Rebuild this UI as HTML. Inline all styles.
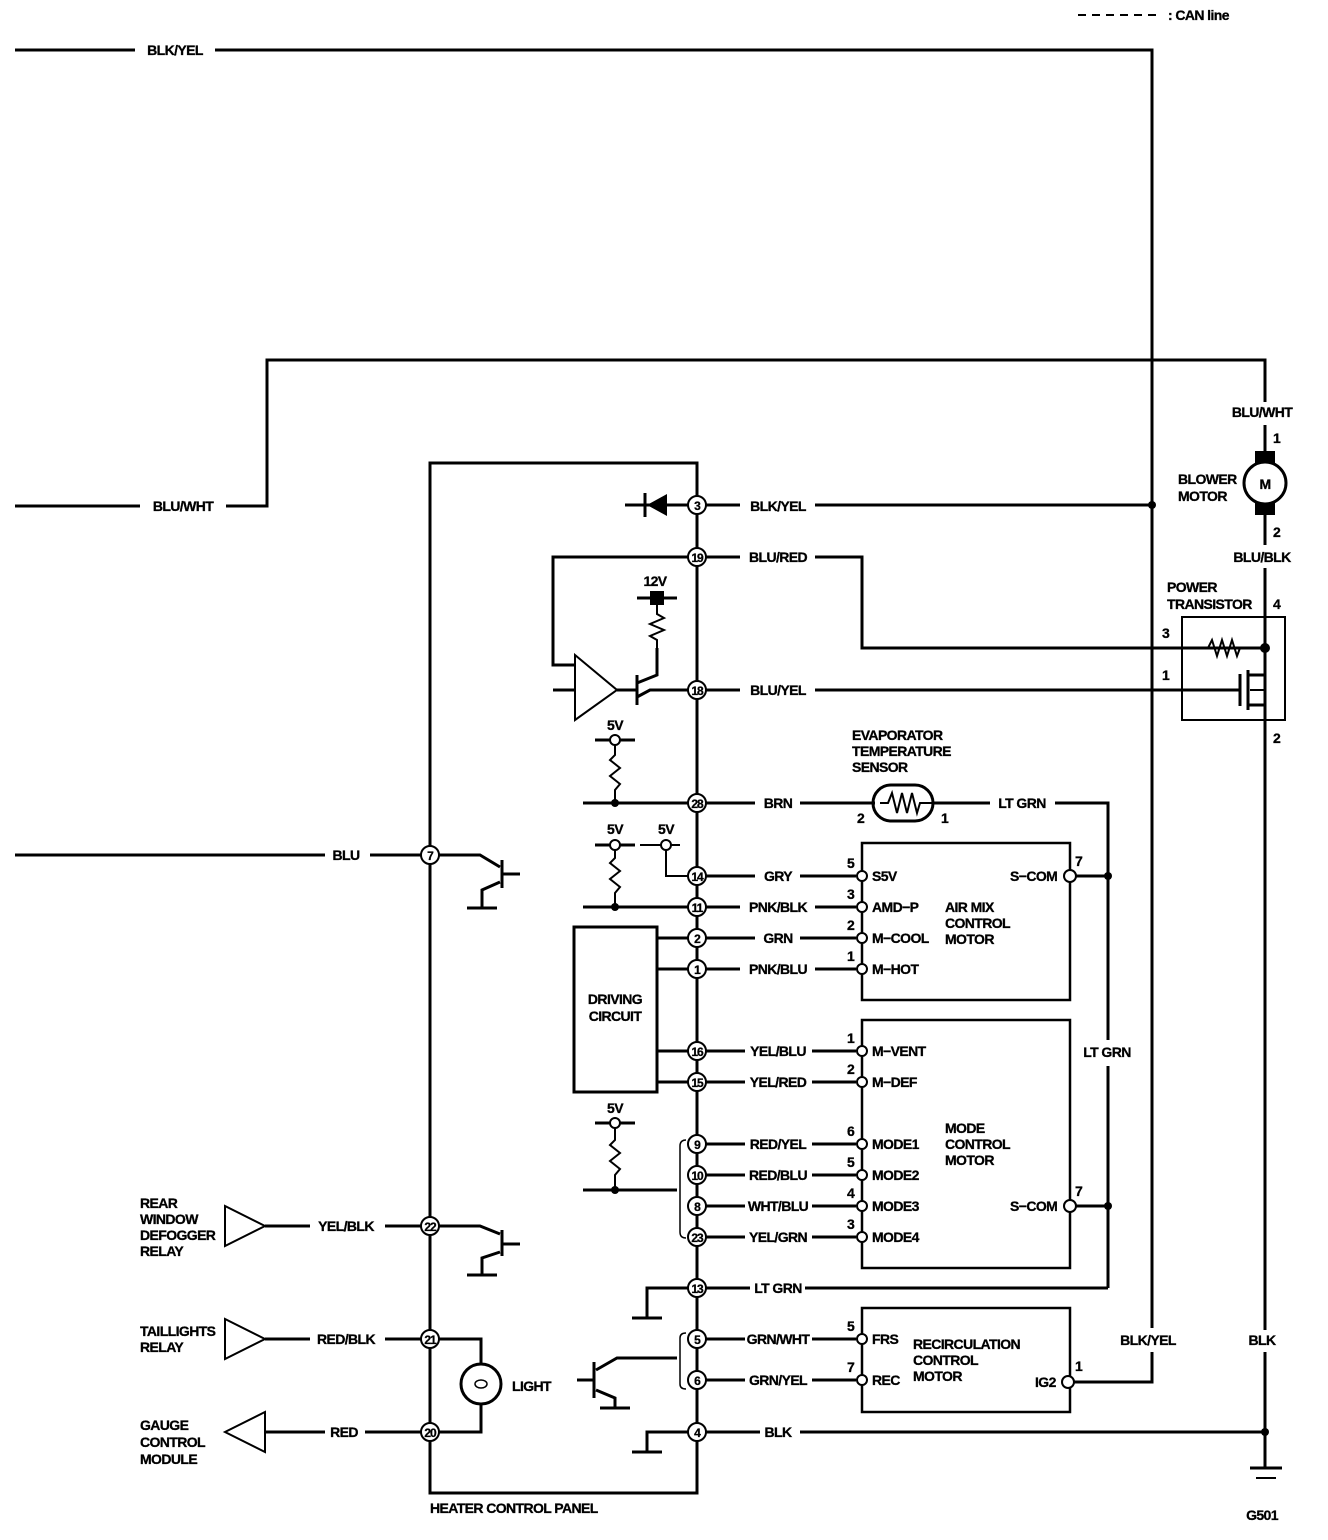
<!DOCTYPE html>
<html><head><meta charset="utf-8"><style>
html,body{margin:0;padding:0;background:#fff}
svg{display:block}
text{font-family:"Liberation Sans",sans-serif;font-weight:bold;font-size:14px;fill:#000;letter-spacing:-0.6px;stroke:#000;stroke-width:0.3px}
.c{text-anchor:middle}
.n{font-size:12px;letter-spacing:-1px}
</style></head><body>
<svg width="1328" height="1540" viewBox="0 0 1328 1540" xmlns="http://www.w3.org/2000/svg">
<g stroke="#000" stroke-width="3" fill="none">
<line x1="1078" y1="15" x2="1162" y2="15" stroke-dasharray="8,6" stroke-width="2"/>
<polyline points="15,50 135,50"/>
<polyline points="215,50 1152,50 1152,1328"/>
<polyline points="1152,1352 1152,1382 1068,1382"/>
<polyline points="15,506 140,506"/>
<polyline points="226,506 267,506 267,360 1265,360 1265,402"/>
<line x1="1265" y1="425" x2="1265" y2="455"/>
<circle cx="1265" cy="483" r="21"/>
<line x1="1265" y1="513" x2="1265" y2="545"/>
<line x1="1265" y1="568" x2="1265" y2="1330"/>
<line x1="1265" y1="1352" x2="1265" y2="1468"/>
<line x1="1250" y1="1468" x2="1282" y2="1468"/>
<line x1="1256" y1="1478" x2="1276" y2="1478" stroke-width="2"/>
<rect x="430" y="463" width="267" height="1030"/>
<line x1="15" y1="855" x2="325" y2="855"/>
<line x1="370" y1="855" x2="430" y2="855"/>
<line x1="697" y1="505" x2="740" y2="505"/><line x1="815" y1="505" x2="1152" y2="505"/>
<line x1="697" y1="557" x2="740" y2="557"/><polyline points="815,557 862,557 862,648 1265,648"/>
<line x1="697" y1="690" x2="740" y2="690"/><line x1="815" y1="690" x2="1240" y2="690"/>
<line x1="697" y1="803" x2="755" y2="803"/><line x1="800" y1="803" x2="875" y2="803"/><line x1="932" y1="803" x2="990" y2="803"/><polyline points="1055,803 1108,803 1108,1040"/>
<line x1="1108" y1="1066" x2="1108" y2="1288"/>
<line x1="697" y1="876" x2="755" y2="876"/><line x1="800" y1="876" x2="856" y2="876"/>
<line x1="697" y1="907" x2="740" y2="907"/><line x1="815" y1="907" x2="856" y2="907"/>
<line x1="697" y1="938" x2="755" y2="938"/><line x1="800" y1="938" x2="856" y2="938"/>
<line x1="697" y1="969" x2="740" y2="969"/><line x1="815" y1="969" x2="856" y2="969"/>
<line x1="697" y1="1051" x2="745" y2="1051"/><line x1="812" y1="1051" x2="856" y2="1051"/>
<line x1="697" y1="1082" x2="745" y2="1082"/><line x1="812" y1="1082" x2="856" y2="1082"/>
<line x1="697" y1="1144" x2="745" y2="1144"/><line x1="812" y1="1144" x2="856" y2="1144"/>
<line x1="697" y1="1175" x2="745" y2="1175"/><line x1="812" y1="1175" x2="856" y2="1175"/>
<line x1="697" y1="1206" x2="745" y2="1206"/><line x1="812" y1="1206" x2="856" y2="1206"/>
<line x1="697" y1="1237" x2="745" y2="1237"/><line x1="812" y1="1237" x2="856" y2="1237"/>
<line x1="697" y1="1288" x2="750" y2="1288"/><line x1="805" y1="1288" x2="1108" y2="1288"/>
<line x1="697" y1="1339" x2="745" y2="1339"/><line x1="812" y1="1339" x2="856" y2="1339"/>
<line x1="697" y1="1380" x2="745" y2="1380"/><line x1="812" y1="1380" x2="856" y2="1380"/>
<line x1="697" y1="1432" x2="760" y2="1432"/><line x1="800" y1="1432" x2="1265" y2="1432"/>
<line x1="1076" y1="876" x2="1108" y2="876"/>
<line x1="1076" y1="1206" x2="1108" y2="1206"/>
<rect x="862" y="843" width="208" height="157" stroke-width="2.5"/>
<rect x="862" y="1020" width="208" height="248" stroke-width="2.5"/>
<rect x="862" y="1308" width="208" height="104" stroke-width="2.5"/>
<rect x="873" y="785" width="60" height="36" rx="18"/>
<polyline points="880,803 888,803 892,793 897,813 902,793 907,813 912,793 917,813 920,803 932,803" stroke-width="2"/>
<rect x="1182" y="617" width="103" height="103" stroke-width="2"/>
<polyline points="1182,648 1208,648 1212,640 1217,656 1222,640 1227,656 1232,640 1237,656 1240,648 1265,648" stroke-width="2"/>
<line x1="1240" y1="674" x2="1240" y2="706"/>
<polyline points="1265,648 1265,675 1248,675"/>
<line x1="1248" y1="670" x2="1248" y2="710"/>
<polyline points="1248,705 1265,705 1265,720"/>
<polyline points="1250,690 1265,690 1265,705" stroke-width="2"/>
<line x1="625" y1="505" x2="697" y2="505"/>
<line x1="645" y1="493" x2="645" y2="517"/>
<polyline points="697,557 553,557 553,665 575,665"/>
<polyline points="553,690 575,690"/>
<polygon points="575,655 575,720 617,690" stroke-width="2"/>
<line x1="617" y1="690" x2="637" y2="690"/>
<line x1="637" y1="675" x2="637" y2="705"/>
<polyline points="637,683 657,675 657,648"/>
<polyline points="637,697 650,690 697,690"/>
<polyline points="657,648 657,640 650,636 664,630 650,624 664,618 657,614 657,600" stroke-width="2"/>
<line x1="637" y1="598" x2="677" y2="598"/>
<line x1="583" y1="803" x2="697" y2="803"/>
<line x1="595" y1="740" x2="635" y2="740"/>
<polyline points="615,740 615,755 610,760 620,768 610,776 620,784 615,790 615,803" stroke-width="2"/>
<line x1="583" y1="907" x2="697" y2="907"/>
<line x1="595" y1="845" x2="635" y2="845"/>
<polyline points="615,845 615,858 610,863 620,871 610,879 620,887 615,893 615,907" stroke-width="2"/>
<line x1="640" y1="845" x2="680" y2="845" stroke-width="2"/>
<polyline points="666,845 666,876 697,876" stroke-width="2"/>
<rect x="574" y="927" width="83" height="165"/>
<line x1="657" y1="938" x2="697" y2="938"/>
<line x1="657" y1="969" x2="697" y2="969"/>
<line x1="657" y1="1051" x2="697" y2="1051"/>
<line x1="657" y1="1082" x2="697" y2="1082"/>
<line x1="583" y1="1190" x2="677" y2="1190"/>
<line x1="595" y1="1123" x2="635" y2="1123"/>
<polyline points="615,1123 615,1140 610,1145 620,1153 610,1161 620,1169 615,1175 615,1190" stroke-width="2"/>
<path d="M686,1140 Q680,1140 680,1146 L680,1232 Q680,1238 686,1238" stroke-width="1.5"/>
<polyline points="697,1288 647,1288 647,1318"/>
<line x1="632" y1="1318" x2="662" y2="1318"/>
<path d="M686,1333 Q680,1333 680,1338 L680,1384 Q680,1389 686,1389" stroke-width="1.5"/>
<polyline points="677,1358 617,1358 596,1370"/>
<line x1="594" y1="1362" x2="594" y2="1398"/>
<line x1="577" y1="1380" x2="594" y2="1380"/>
<polyline points="596,1390 615,1398 615,1408"/>
<line x1="600" y1="1408" x2="630" y2="1408"/>
<polyline points="697,1432 647,1432 647,1452"/>
<line x1="632" y1="1452" x2="662" y2="1452"/>
<polyline points="430,855 480,855 500,867"/>
<line x1="502" y1="860" x2="502" y2="888"/>
<line x1="502" y1="874" x2="520" y2="874"/>
<polyline points="500,882 482,890 482,908"/>
<line x1="467" y1="908" x2="497" y2="908"/>
<polyline points="430,1226 480,1226 500,1234"/>
<line x1="502" y1="1230" x2="502" y2="1256"/>
<line x1="502" y1="1244" x2="520" y2="1244"/>
<polyline points="500,1252 482,1258 482,1275"/>
<line x1="467" y1="1275" x2="497" y2="1275"/>
<polyline points="430,1339 481,1339 481,1363"/>
<circle cx="481" cy="1384" r="20"/>
<polyline points="481,1405 481,1432 430,1432"/>
<ellipse cx="481" cy="1384" rx="6" ry="4" stroke-width="1.5"/>
<polygon points="225,1206 225,1246 265,1226" stroke-width="2"/>
<line x1="265" y1="1226" x2="310" y2="1226"/><line x1="385" y1="1226" x2="430" y2="1226"/>
<polygon points="225,1319 225,1359 265,1339" stroke-width="2"/>
<line x1="265" y1="1339" x2="310" y2="1339"/><line x1="385" y1="1339" x2="430" y2="1339"/>
<polygon points="265,1412 265,1452 225,1432" stroke-width="2"/>
<line x1="265" y1="1432" x2="325" y2="1432"/><line x1="365" y1="1432" x2="430" y2="1432"/>
</g>
<g fill="#000">
<rect x="1255" y="451" width="20" height="12"/><rect x="1255" y="503" width="20" height="12"/>
<polygon points="667,494 667,516 647,505"/>
<rect x="650" y="591" width="14" height="14"/>
<circle cx="1152" cy="505" r="4"/><circle cx="1108" cy="876" r="4"/><circle cx="1108" cy="1206" r="4"/>
<circle cx="1265" cy="648" r="5"/><circle cx="1265" cy="1432" r="4"/>
<circle cx="615" cy="803" r="4"/><circle cx="615" cy="907" r="4"/><circle cx="615" cy="1190" r="4"/>
</g>
<g fill="#fff" stroke="#000" stroke-width="2">
<circle cx="615" cy="740" r="5"/><circle cx="615" cy="845" r="5"/><circle cx="666" cy="845" r="5"/><circle cx="615" cy="1123" r="5"/>
<circle cx="862" cy="876" r="5"/><circle cx="862" cy="907" r="5"/><circle cx="862" cy="938" r="5"/><circle cx="862" cy="969" r="5"/>
<circle cx="862" cy="1051" r="5"/><circle cx="862" cy="1082" r="5"/><circle cx="862" cy="1144" r="5"/><circle cx="862" cy="1175" r="5"/><circle cx="862" cy="1206" r="5"/><circle cx="862" cy="1237" r="5"/>
<circle cx="862" cy="1339" r="5"/><circle cx="862" cy="1380" r="5"/>
<circle cx="1070" cy="876" r="6"/><circle cx="1070" cy="1206" r="6"/><circle cx="1068" cy="1382" r="6"/>
<circle cx="1265" cy="483" r="18" stroke="none"/>
<circle cx="697" cy="505" r="9"/><circle cx="697" cy="557" r="9"/><circle cx="697" cy="690" r="9"/><circle cx="697" cy="803" r="9"/>
<circle cx="697" cy="876" r="9"/><circle cx="697" cy="907" r="9"/><circle cx="697" cy="938" r="9"/><circle cx="697" cy="969" r="9"/>
<circle cx="697" cy="1051" r="9"/><circle cx="697" cy="1082" r="9"/><circle cx="697" cy="1144" r="9"/><circle cx="697" cy="1175" r="9"/>
<circle cx="697" cy="1206" r="9"/><circle cx="697" cy="1237" r="9"/><circle cx="697" cy="1288" r="9"/><circle cx="697" cy="1339" r="9"/>
<circle cx="697" cy="1380" r="9"/><circle cx="697" cy="1432" r="9"/>
<circle cx="430" cy="855" r="9"/><circle cx="430" cy="1226" r="9"/><circle cx="430" cy="1339" r="9"/><circle cx="430" cy="1432" r="9"/>
</g>
<g class="n">
<text class="c n" x="697" y="510">3</text><text class="c n" x="697" y="562">19</text><text class="c n" x="697" y="695">18</text><text class="c n" x="697" y="808">28</text>
<text class="c n" x="697" y="881">14</text><text class="c n" x="697" y="912">11</text><text class="c n" x="697" y="943">2</text><text class="c n" x="697" y="974">1</text>
<text class="c n" x="697" y="1056">16</text><text class="c n" x="697" y="1087">15</text><text class="c n" x="697" y="1149">9</text><text class="c n" x="697" y="1180">10</text>
<text class="c n" x="697" y="1211">8</text><text class="c n" x="697" y="1242">23</text><text class="c n" x="697" y="1293">13</text><text class="c n" x="697" y="1344">5</text>
<text class="c n" x="697" y="1385">6</text><text class="c n" x="697" y="1437">4</text>
<text class="c n" x="430" y="860">7</text><text class="c n" x="430" y="1231">22</text><text class="c n" x="430" y="1344">21</text><text class="c n" x="430" y="1437">20</text>
</g>
<text x="1168" y="20">: CAN line</text>
<text class="c" x="175" y="55">BLK/YEL</text>
<text class="c" x="183" y="511">BLU/WHT</text>
<text class="c" x="346" y="860">BLU</text>
<text class="c" x="1262" y="417">BLU/WHT</text>
<text x="1273" y="443">1</text>
<text x="1178" y="484">BLOWER</text><text x="1178" y="501">MOTOR</text>
<text class="c" x="1265" y="489" font-size="16">M</text>
<text x="1273" y="537">2</text>
<text class="c" x="1262" y="562">BLU/BLK</text>
<text x="1167" y="592">POWER</text><text x="1167" y="609">TRANSISTOR</text>
<text x="1273" y="609">4</text>
<text x="1162" y="638">3</text><text x="1162" y="680">1</text>
<text x="1273" y="743">2</text>
<text class="c" x="1262" y="1345">BLK</text>
<text class="c" x="1262" y="1520">G501</text>
<text class="c" x="1148" y="1345">BLK/YEL</text>
<text class="c" x="778" y="511">BLK/YEL</text>
<text class="c" x="778" y="562">BLU/RED</text>
<text class="c" x="778" y="695">BLU/YEL</text>
<text class="c" x="778" y="808">BRN</text>
<text class="c" x="1022" y="808">LT GRN</text>
<text class="c" x="1107" y="1057">LT GRN</text>
<text class="c" x="778" y="881">GRY</text>
<text class="c" x="778" y="912">PNK/BLK</text>
<text class="c" x="778" y="943">GRN</text>
<text class="c" x="778" y="974">PNK/BLU</text>
<text class="c" x="778" y="1056">YEL/BLU</text>
<text class="c" x="778" y="1087">YEL/RED</text>
<text class="c" x="778" y="1149">RED/YEL</text>
<text class="c" x="778" y="1180">RED/BLU</text>
<text class="c" x="778" y="1211">WHT/BLU</text>
<text class="c" x="778" y="1242">YEL/GRN</text>
<text class="c" x="778" y="1293">LT GRN</text>
<text class="c" x="778" y="1344">GRN/WHT</text>
<text class="c" x="778" y="1385">GRN/YEL</text>
<text class="c" x="778" y="1437">BLK</text>
<text class="c" x="655" y="586">12V</text>
<text class="c" x="615" y="730">5V</text><text class="c" x="615" y="834">5V</text><text class="c" x="666" y="834">5V</text><text class="c" x="615" y="1113">5V</text>
<text x="852" y="740">EVAPORATOR</text><text x="852" y="756">TEMPERATURE</text><text x="852" y="772">SENSOR</text>
<text x="857" y="823">2</text><text x="941" y="823">1</text>
<text x="847" y="868">5</text><text x="847" y="899">3</text><text x="847" y="930">2</text><text x="847" y="961">1</text>
<text x="872" y="881">S5V</text><text x="872" y="912">AMD−P</text><text x="872" y="943">M−COOL</text><text x="872" y="974">M−HOT</text>
<text x="945" y="912">AIR MIX</text><text x="945" y="928">CONTROL</text><text x="945" y="944">MOTOR</text>
<text x="1010" y="881">S−COM</text><text x="1075" y="866">7</text>
<text x="847" y="1043">1</text><text x="847" y="1074">2</text><text x="847" y="1136">6</text><text x="847" y="1167">5</text><text x="847" y="1198">4</text><text x="847" y="1229">3</text>
<text x="872" y="1056">M−VENT</text><text x="872" y="1087">M−DEF</text><text x="872" y="1149">MODE1</text><text x="872" y="1180">MODE2</text><text x="872" y="1211">MODE3</text><text x="872" y="1242">MODE4</text>
<text x="945" y="1133">MODE</text><text x="945" y="1149">CONTROL</text><text x="945" y="1165">MOTOR</text>
<text x="1010" y="1211">S−COM</text><text x="1075" y="1196">7</text>
<text x="847" y="1331">5</text><text x="847" y="1372">7</text>
<text x="872" y="1344">FRS</text><text x="872" y="1385">REC</text>
<text x="913" y="1349">RECIRCULATION</text><text x="913" y="1365">CONTROL</text><text x="913" y="1381">MOTOR</text>
<text x="1035" y="1387">IG2</text><text x="1075" y="1371">1</text>
<text class="c" x="615" y="1004">DRIVING</text><text class="c" x="615" y="1021">CIRCUIT</text>
<text x="512" y="1391">LIGHT</text>
<text x="140" y="1208">REAR</text><text x="140" y="1224">WINDOW</text><text x="140" y="1240">DEFOGGER</text><text x="140" y="1256">RELAY</text>
<text class="c" x="346" y="1231">YEL/BLK</text>
<text x="140" y="1336">TAILLIGHTS</text><text x="140" y="1352">RELAY</text>
<text class="c" x="346" y="1344">RED/BLK</text>
<text x="140" y="1430">GAUGE</text><text x="140" y="1447">CONTROL</text><text x="140" y="1464">MODULE</text>
<text class="c" x="344" y="1437">RED</text>
<text x="430" y="1513">HEATER CONTROL PANEL</text>
</svg>
</body></html>
